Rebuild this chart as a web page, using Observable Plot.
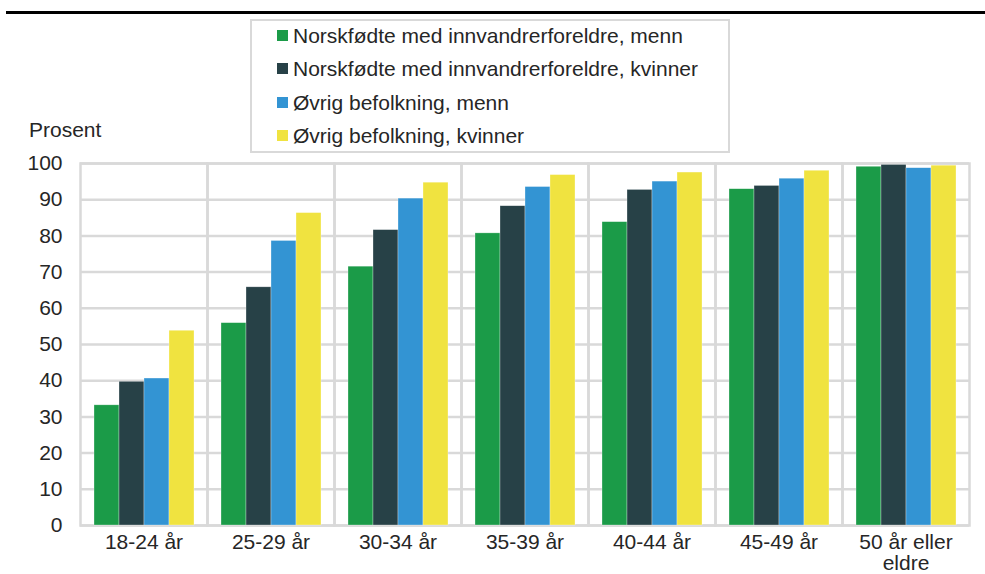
<!DOCTYPE html>
<html>
<head>
<meta charset="utf-8">
<script src="https://cdn.jsdelivr.net/npm/d3@7"></script>
<script src="https://cdn.jsdelivr.net/npm/@observablehq/plot@0.6"></script>
<style>
  html, body { margin: 0; padding: 0; background: #fff; }
  #wrap { position: relative; width: 985px; height: 574px; overflow: hidden;
          font-family: "Liberation Sans", Arial, sans-serif; color: #262626; }
  #rule { position: absolute; left: 6px; top: 11px; width: 979px; height: 3px; background: #000; }
  #chart { position: absolute; left: 0; top: 0; }
  #ylabel { position: absolute; left: 29px; top: 118px; font-size: 21px; line-height: 24px; }
  #legend { position: absolute; left: 250px; top: 19px; width: 480px; height: 134px;
            box-sizing: border-box; border: 2px solid #d9d9d9; background: #fff; }
  .row { position: absolute; left: 25px; height: 33px; line-height: 33px; font-size: 21px;
         display: flex; align-items: center; white-space: nowrap; }
  .sw { width: 11px; height: 11px; margin-right: 5px; flex: none; }
</style>
</head>
<body>
<div id="wrap">
  <div id="chart"></div>
  <div id="rule"></div>
  <div id="ylabel"></div>
  <div id="legend"></div>
</div>
<script>
const ageGroups = ["18-24 år", "25-29 år", "30-34 år", "35-39 år", "40-44 år", "45-49 år", "50 år eller eldre"];
const ageTickLabels = ["18-24 år", "25-29 år", "30-34 år", "35-39 år", "40-44 år", "45-49 år", "50 år eller\neldre"];
const seriesNames = [
  "Norskfødte med innvandrerforeldre, menn",
  "Norskfødte med innvandrerforeldre, kvinner",
  "Øvrig befolkning, menn",
  "Øvrig befolkning, kvinner"
];
const seriesColors = ["#1b9b48", "#274147", "#3394d3", "#f0e340"];
const innvMenn     = [33.2, 55.9, 71.5, 80.7, 83.8, 92.9, 99.1];
const innvKvinner  = [39.7, 65.8, 81.6, 88.2, 92.7, 93.8, 99.6];
const ovrigMenn    = [40.6, 78.6, 90.3, 93.5, 95.0, 95.8, 98.7];
const ovrigKvinner = [53.8, 86.3, 94.7, 96.8, 97.5, 98.0, 99.4];
const yTicks = [0, 10, 20, 30, 40, 50, 60, 70, 80, 90, 100];
const yLabel = "Prosent";

const seriesValues = [innvMenn, innvKvinner, ovrigMenn, ovrigKvinner];
const data = [];
ageGroups.forEach((g, i) => {
  seriesNames.forEach((s, j) => data.push({group: g, series: s, value: seriesValues[j][i]}));
});
const tickMap = new Map(ageGroups.map((g, i) => [g, ageTickLabels[i]]));

const plot = Plot.plot({
  width: 985,
  height: 574,
  marginTop: 163,
  marginBottom: 49,
  marginLeft: 79,
  marginRight: 16,
  style: {fontFamily: "Liberation Sans, Arial, sans-serif", fontSize: "21px", color: "#262626", background: "transparent"},
  fx: {domain: ageGroups, padding: 0, label: null},
  x: {domain: seriesNames, paddingInner: 0, paddingOuter: 0.5, axis: null},
  y: {domain: [0, 100], label: null},
  color: {domain: seriesNames, range: seriesColors},
  marks: [
    Plot.gridY(yTicks, {stroke: "#d9d9d9", strokeOpacity: 1, strokeWidth: 2.5}),
    Plot.frame({stroke: "#d9d9d9", strokeWidth: 2.5}),
    Plot.barY(data, {fx: "group", x: "series", y: "value", fill: "series", stroke: "#ffffff", strokeWidth: 0.6, strokeOpacity: 0.5}),
    Plot.axisY(yTicks, {tickSize: 0, tickPadding: 18, label: null, fontSize: 21}),
    Plot.axisFx({anchor: "bottom", tickSize: 0, tickPadding: 9, label: null, fontSize: 21, lineHeight: 1.0, tickFormat: d => tickMap.get(d)})
  ]
});
document.getElementById("chart").appendChild(plot);
document.getElementById("ylabel").textContent = yLabel;

const legend = document.getElementById("legend");
seriesNames.forEach((s, i) => {
  const row = document.createElement("div");
  row.className = "row";
  row.style.top = (-2 + i * 33.3) + "px";
  const sw = document.createElement("span");
  sw.className = "sw";
  sw.style.background = seriesColors[i];
  const t = document.createElement("span");
  t.textContent = s;
  row.appendChild(sw);
  row.appendChild(t);
  legend.appendChild(row);
});
</script>
</body>
</html>
